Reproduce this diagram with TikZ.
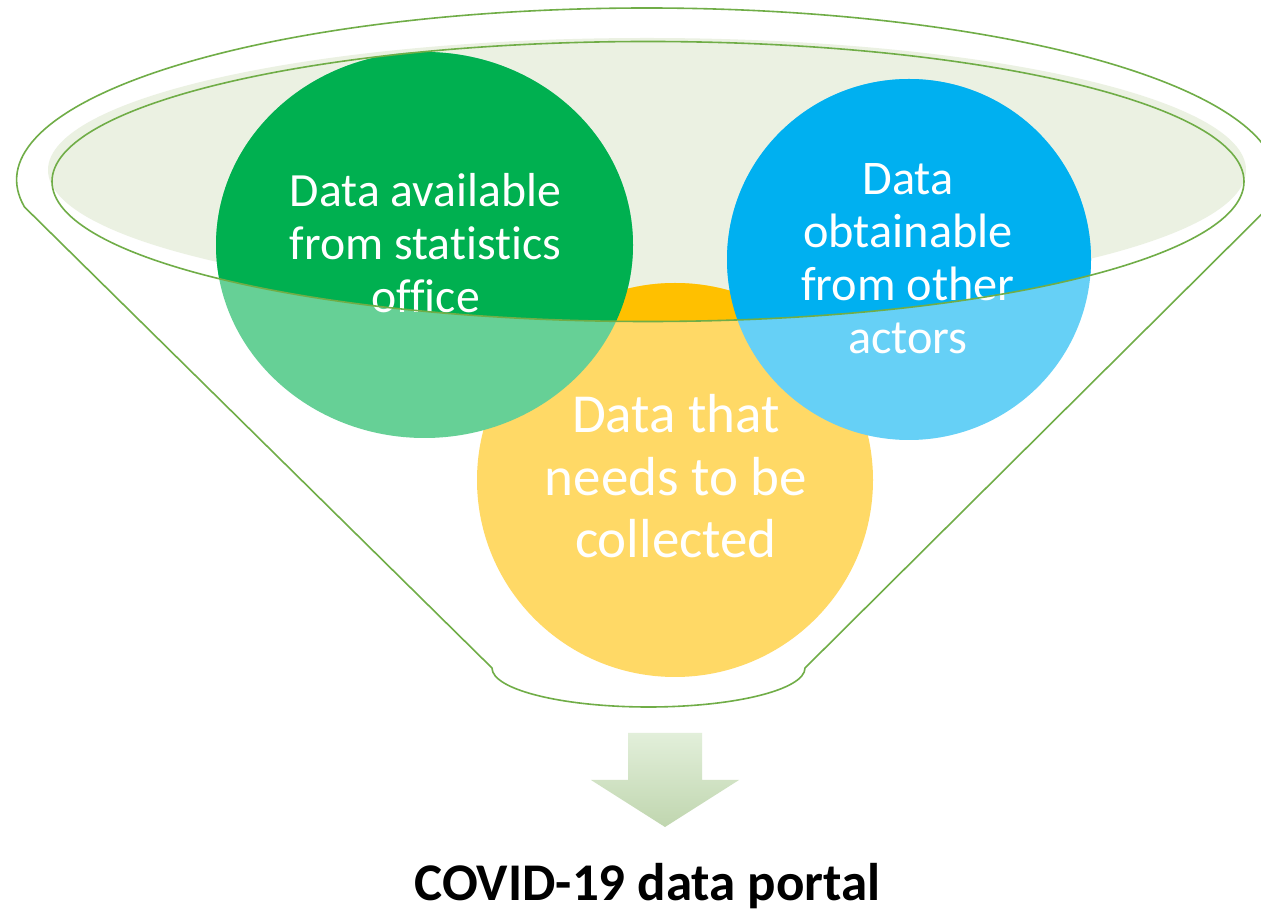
\documentclass[tikz,border=0pt]{standalone}
\usepackage{fontspec}
\setmainfont{Carlito}[Ligatures=NoCommon]
\definecolor{funnel}{HTML}{70AD47}
\definecolor{rimfill}{HTML}{EBF1E2}
\definecolor{cgreen}{HTML}{00B050}
\definecolor{cblue}{HTML}{00B0F0}
\definecolor{cyellow}{HTML}{FFC000}
\definecolor{arrtop}{HTML}{E2EFDA}
\definecolor{arrbot}{HTML}{C0D6AF}
\begin{document}
\begin{tikzpicture}[x=1pt,y=1pt,
  funnelline/.style={draw=funnel,line width=1.6pt},
  lbl/.style={text=white,anchor=base,inner sep=0pt},
]
\useasboundingbox (0,0) rectangle (1261,908);
\fill[white] (0,0) rectangle (1261,908);
% funnel outline
\draw[funnelline,line join=round] (24.5,701)
  arc[start angle=189.03,end angle=-9.03,x radius=630,y radius=172]
  -- (805,240)
  arc[start angle=0,end angle=-180,x radius=156.5,y radius=39]
  -- cycle;
% rim fill
\fill[rimfill] (647,738) ellipse[x radius=599,y radius=132];
% light parts of circles
\fill[cyellow!60!white] (675,428) ellipse[x radius=198,y radius=197];
\fill[cgreen!60!white] (424.5,663) ellipse[x radius=208.5,y radius=193];
\fill[cblue!60!white] (909,648.5) ellipse[x radius=182,y radius=180.5];
% saturated parts inside the rim
\begin{scope}
  \clip (648,726.5) ellipse[x radius=596,y radius=140];
  \fill[cyellow] (675,428) ellipse[x radius=198,y radius=197];
  \fill[cgreen] (424.5,663) ellipse[x radius=208.5,y radius=193];
  \fill[cblue] (909,648.5) ellipse[x radius=182,y radius=180.5];
\end{scope}
% texts
\node[lbl] (tgreen) at (425.5,701) {\fontsize{47.7}{53}\selectfont\begin{tabular}[t]{@{}c@{}}Data available\\from statistics\\office\end{tabular}};
\node[lbl] (tblue) at (908,713) {\fontsize{48.3}{52.7}\selectfont\begin{tabular}[t]{@{}c@{}}Data\\obtainable\\from other\\actors\end{tabular}};
\node[lbl] (tyellow) at (676,475) {\fontsize{55}{62.5}\selectfont\begin{tabular}[t]{@{}c@{}}Data that\\needs to be\\collected\end{tabular}};
% rim line
\draw[funnelline] (648,726.5) ellipse[x radius=596,y radius=140];
% down arrow
\shade[top color=arrtop,bottom color=arrbot] (628,175) -- (702,175) -- (702,128) -- (739,128) -- (665,81) -- (591,128) -- (628,128) -- cycle;
% title
\node[anchor=base,inner sep=0pt] (title) at (647.5,8) {\fontsize{53}{60}\selectfont\bfseries COVID-19 data portal};
\end{tikzpicture}
\end{document}
